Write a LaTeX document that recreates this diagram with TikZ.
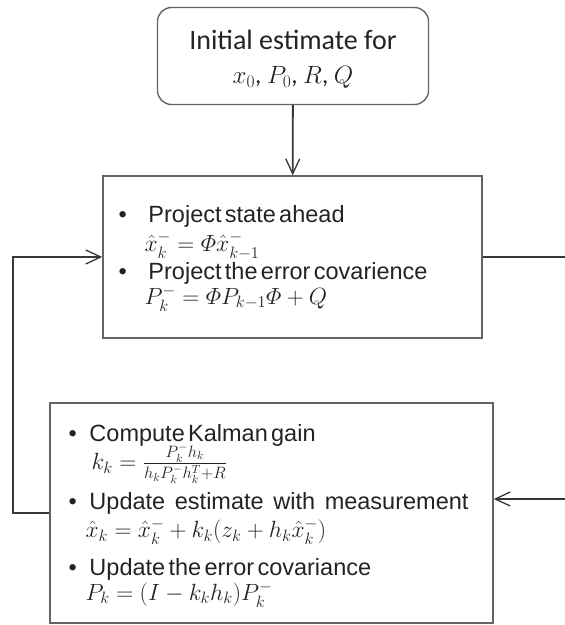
\RequirePackage{fix-cm}
\documentclass[tikz,border=0pt]{standalone}
\usepackage{amsmath,amssymb}
\usepackage{fontspec}
\setmainfont{Liberation Sans}
\newfontfamily\calib{Carlito}
\usetikzlibrary{positioning,arrows.meta}

\definecolor{boxgray}{RGB}{100,100,100}
\definecolor{linegray}{RGB}{55,55,55}
\definecolor{txtgray}{RGB}{35,35,35}

% bullet line, first argument is the width kept for the bullet
\newcommand{\bul}[2]{\makebox[#1][l]{\textbullet}#2}

\tikzset{
  stepbox/.style={draw=boxgray, line width=1.4pt},
  steptext/.style={text=txtgray, align=left, inner sep=0pt, anchor=north west},
  startbox/.style={draw=boxgray, line width=1.4pt, rounded corners=14pt, text=txtgray, align=center,
    font=\calib\fontsize{28}{33}\selectfont},
  flow/.style={draw=linegray, line width=1.8pt, -{Straight Barb[length=15pt,width=14pt,line width=1.3pt]}},
  plainline/.style={draw=linegray, line width=1.8pt}
}

\begin{document}
\begin{tikzpicture}[x=1pt,y=-1pt]

\useasboundingbox (0,0) rectangle (565,625);

% start values
\node[startbox, minimum width=271pt, minimum height=97pt] (init) at (293,56)
  {\rule{0pt}{26pt}Initial estimate for\\[1pt]
   {\fontsize{25}{30}\selectfont$x_0$, $P_0$, $R$, $Q$}};

% prediction step
\node[stepbox, minimum width=379pt, minimum height=162pt] (predict) at (292.5,257) {};
\node[steptext, text width=347pt, xshift=16pt, yshift=-30pt] (predicttext) at (predict.north west)
  {\fontsize{23.5}{28.5}\selectfont\lineskiplimit=-30pt
   \bul{30pt}{Project state ahead}\\
   \hspace*{26pt}$\hat{x}_k^- = \varPhi\hat{x}_{k-1}^-$\\
   \bul{30pt}{Project the error covarience}\\
   \hspace*{26pt}$P_k^- = \varPhi P_{k-1}\varPhi + Q$};

% correction step
\node[stepbox, minimum width=443pt, minimum height=220pt] (update) at (271.5,513) {};
\node[steptext, text width=400pt, xshift=19pt, yshift=-22pt] (updatetext) at (update.north west)
  {\fontsize{23.5}{28}\selectfont\lineskiplimit=-30pt
   \bul{21pt}{Compute Kalman gain}\\
   \hspace*{23pt}$k_k = \frac{P_k^- h_k}{h_k P_k^- h_k^T + R}$\\[12pt]
   \bul{21pt}{Update\hfill estimate\hfill with\hfill measurement}\\
   \hspace*{17pt}$\hat{x}_k = \hat{x}_k^- + k_k(z_k + h_k\hat{x}_k^-)$\\[10pt]
   \bul{21pt}{Update the error covariance}\\
   \hspace*{17pt}$P_k = (I - k_k h_k)P_k^-$};

% loose ends on the right and the way back on the left
\coordinate (outR) at (565,257);
\coordinate (inR) at (565,499);
\coordinate (loopL) at (13,513);

\draw[flow] (init) -- (predict);
\draw[plainline] (predict.east) -- (outR);
\draw[flow] (inR) -- (update.east |- inR);
\draw[flow] (update.west) -- (loopL) |- (predict.west);

\end{tikzpicture}
\end{document}
